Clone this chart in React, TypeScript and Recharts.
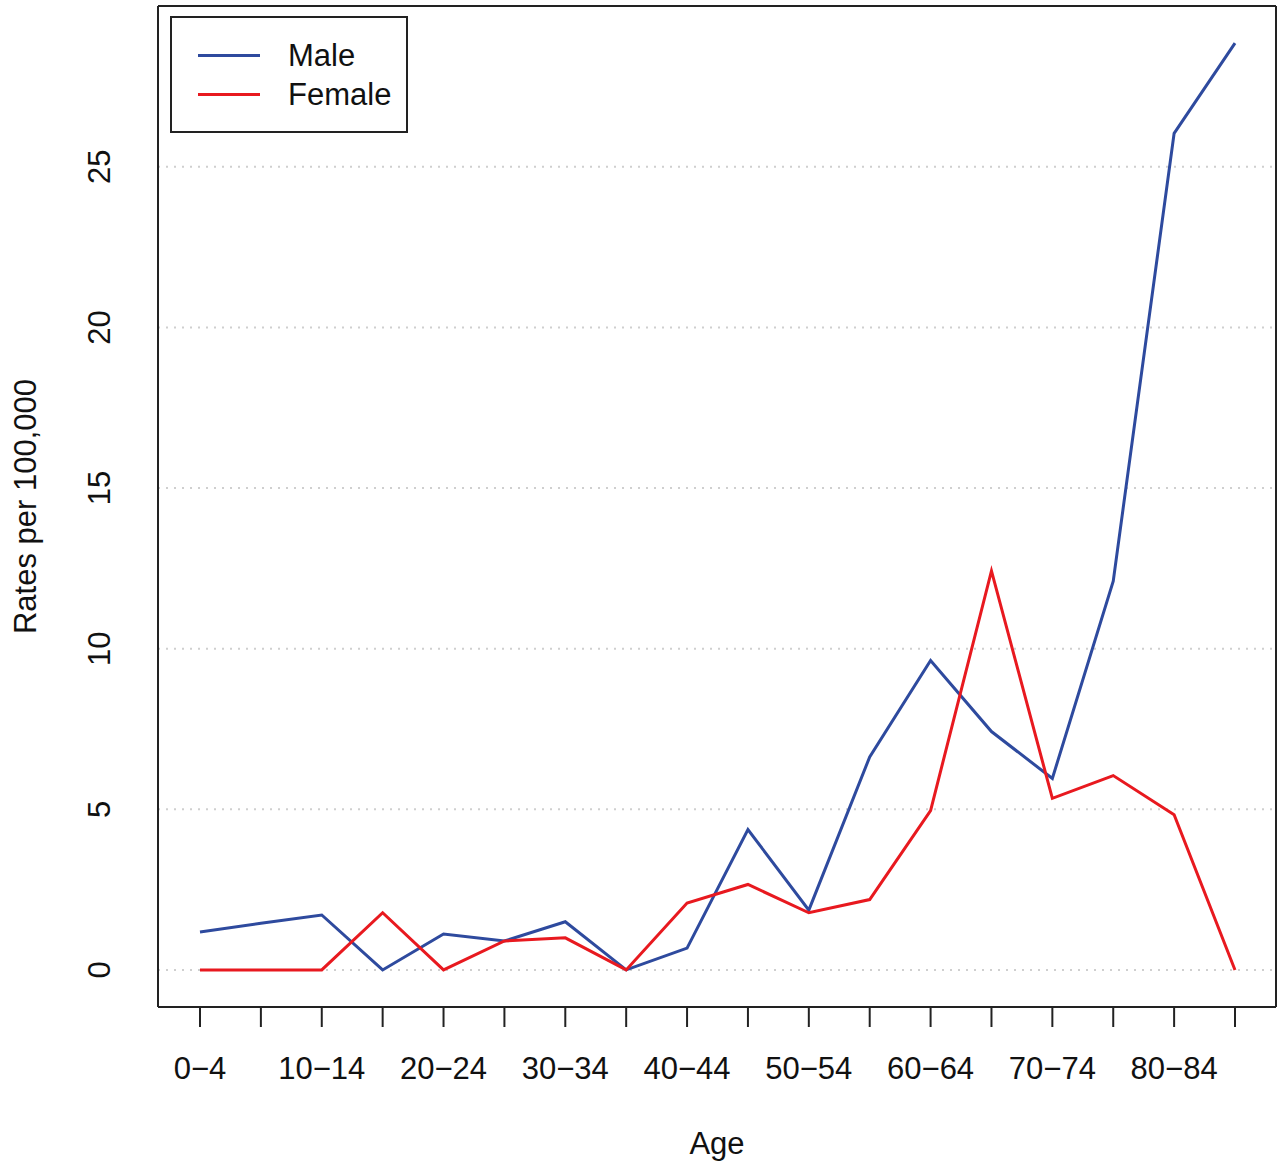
import { LineChart, Line, XAxis, YAxis, CartesianGrid, Legend } from "recharts";

const ageGroups = [
  "0−4", "5−9", "10−14", "15−19", "20−24", "25−29", "30−34", "35−39", "40−44",
  "45−49", "50−54", "55−59", "60−64", "65−69", "70−74", "75−79", "80−84", "85+",
];
const maleRates = [
  1.18, 1.45, 1.71, 0, 1.12, 0.9, 1.5, 0, 0.68, 4.37, 1.86, 6.63, 9.63, 7.42,
  5.96, 12.1, 26.04, 28.85,
];
const femaleRates = [
  0, 0, 0, 1.78, 0, 0.9, 1.0, 0, 2.08, 2.66, 1.78, 2.19, 4.96, 12.42, 5.34,
  6.05, 4.83, 0,
];
const seriesNames = ["Male", "Female"];
const yTicks = [0, 5, 10, 15, 20, 25];

const data = ageGroups.map((age, i) => ({
  age,
  male: maleRates[i],
  female: femaleRates[i],
}));

const FONT = "'Liberation Sans', Arial, Helvetica, sans-serif";

const AgeTick = ({ x, y, payload, index }: any) => {
  if (index % 2 !== 0) return null;
  return (
    <text x={x} y={y + 50} textAnchor="middle" fontSize={31} fontFamily={FONT} fill="#111">
      {payload.value}
    </text>
  );
};

const RateTick = ({ y, payload }: any) => (
  <text
    x={100}
    y={y}
    transform={`rotate(-90 100 ${y})`}
    textAnchor="middle"
    dominantBaseline="central"
    fontSize={31}
    fontFamily={FONT}
    fill="#111"
  >
    {payload.value}
  </text>
);

const RateLabel = ({ viewBox }: any) => {
  const cy = viewBox.y + viewBox.height / 2;
  return (
    <text
      x={25}
      y={cy}
      transform={`rotate(-90 25 ${cy})`}
      textAnchor="middle"
      dominantBaseline="central"
      fontSize={31}
      fontFamily={FONT}
      fill="#111"
    >
      Rates per 100,000
    </text>
  );
};

const LegendBox = ({ payload }: any) => {
  const items = [...(payload || [])].sort(
    (a: any, b: any) => seriesNames.indexOf(a.value) - seriesNames.indexOf(b.value)
  );
  return (
    <div
      style={{
        width: 238,
        height: 117,
        border: "2px solid #222",
        boxSizing: "border-box",
        background: "#fff",
        fontFamily: FONT,
        fontSize: 31,
        color: "#111",
        paddingTop: 18,
      }}
    >
      {items.map((p: any) => (
        <div key={p.value} style={{ display: "flex", alignItems: "center", height: 39 }}>
          <div style={{ width: 62, height: 3, background: p.color, marginLeft: 26, marginRight: 28 }} />
          <span>{p.value}</span>
        </div>
      ))}
    </div>
  );
};

export default function App() {
  return (
    <div style={{ position: "absolute", left: 0, top: 0, background: "#fff" }}>
      <LineChart
        width={1278}
        height={1166}
        data={data}
        margin={{ top: 5, right: 1, left: 0, bottom: 0 }}
      >
        <CartesianGrid vertical={false} stroke="#cfcfcf" strokeWidth={2} strokeDasharray="2 6" />
        <XAxis
          dataKey="age"
          interval={0}
          height={159}
          padding={{ left: 42, right: 41 }}
          tick={<AgeTick />}
          tickSize={20}
          tickLine={{ stroke: "#222", strokeWidth: 2 }}
          axisLine={{ stroke: "#222", strokeWidth: 2 }}
          label={{ value: "Age", position: "insideBottom", offset: 12, fontSize: 31, fontFamily: FONT, fill: "#111" }}
        />
        <XAxis
          xAxisId="top"
          dataKey="age"
          orientation="top"
          height={1}
          tick={false}
          tickLine={false}
          axisLine={{ stroke: "#222", strokeWidth: 2 }}
        />
        <YAxis
          width={158}
          domain={[-1.154, 30.004]}
          ticks={yTicks}
          allowDataOverflow
          tick={<RateTick />}
          tickLine={false}
          axisLine={{ stroke: "#222", strokeWidth: 2 }}
          label={<RateLabel />}
        />
        <YAxis
          yAxisId="right"
          orientation="right"
          width={1}
          domain={[-1.154, 30.004]}
          tick={false}
          tickLine={false}
          axisLine={{ stroke: "#222", strokeWidth: 2 }}
        />
        <Legend
          layout="horizontal"
          verticalAlign="middle"
          align="center"
          content={<LegendBox />}
          wrapperStyle={{ left: 170, top: 16, width: 238 }}
        />
        <Line
          type="linear"
          dataKey="male"
          name="Male"
          stroke="#2E4A9E"
          strokeWidth={3}
          dot={false}
          isAnimationActive={false}
        />
        <Line
          type="linear"
          dataKey="female"
          name="Female"
          stroke="#E8191F"
          strokeWidth={3}
          dot={false}
          isAnimationActive={false}
        />
      </LineChart>
    </div>
  );
}
